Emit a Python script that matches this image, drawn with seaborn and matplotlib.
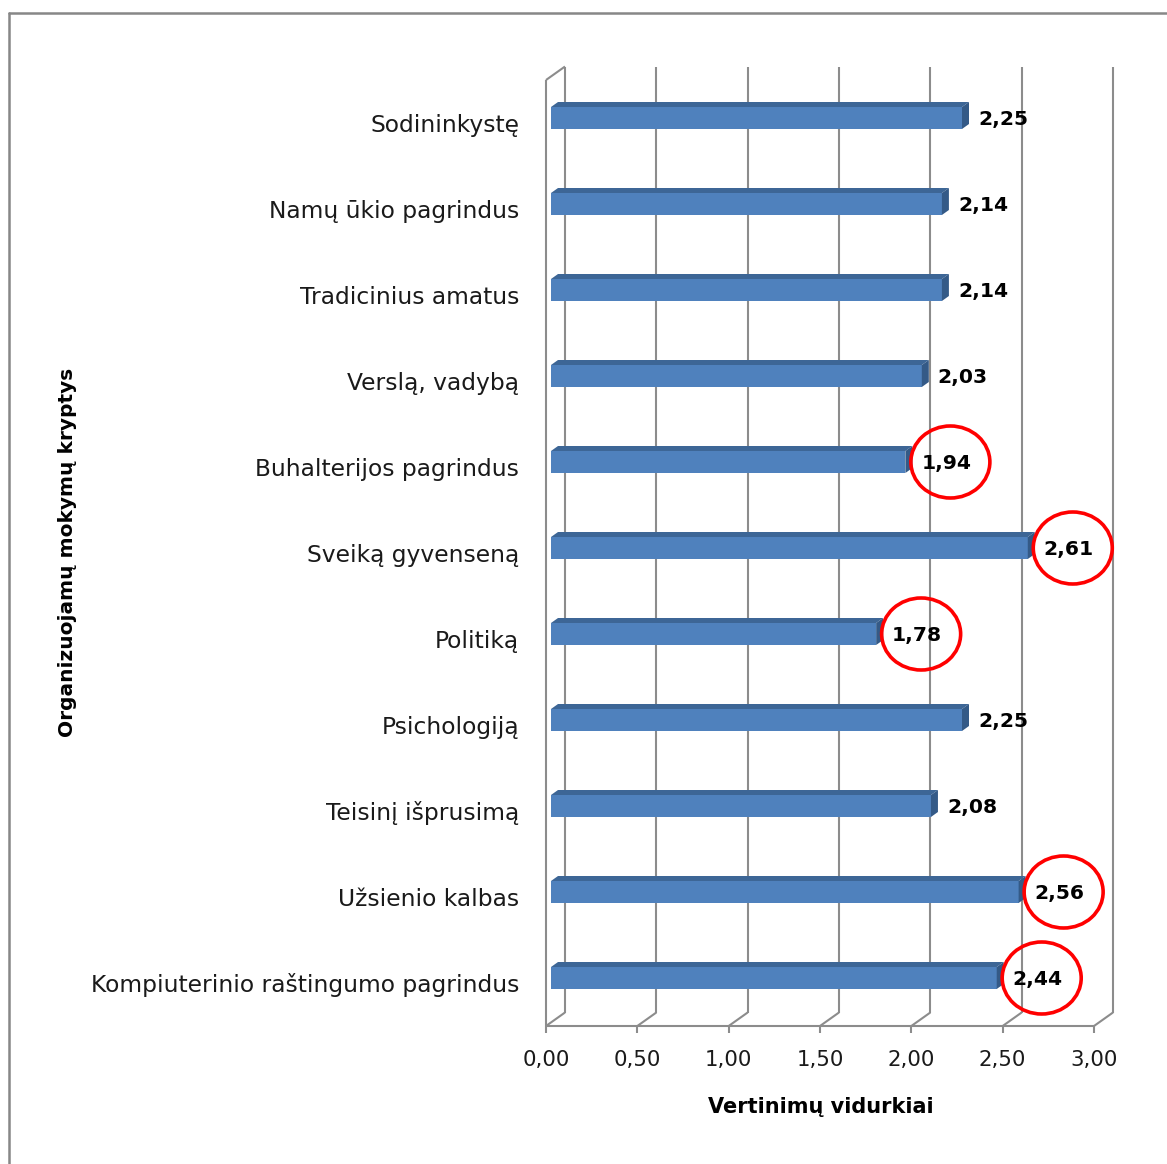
import numpy as np
import pandas as pd
import matplotlib
matplotlib.use("Agg")
import matplotlib.pyplot as plt
import seaborn as sns
from matplotlib.patches import Polygon, Ellipse
from matplotlib.lines import Line2D
import matplotlib.transforms as mtransforms

# ---------------- data ----------------
categories = ["Sodininkystę", "Namų ūkio pagrindus", "Tradicinius amatus",
              "Verslą, vadybą", "Buhalterijos pagrindus", "Sveiką gyvenseną",
              "Politiką", "Psichologiją", "Teisinį išprusimą", "Užsienio kalbas",
              "Kompiuterinio raštingumo pagrindus"]
values = [2.25, 2.14, 2.14, 2.03, 1.94, 2.61, 1.78, 2.25, 2.08, 2.56, 2.44]
highlighted = ["Buhalterijos pagrindus", "Sveiką gyvenseną", "Politiką",
               "Užsienio kalbas", "Kompiuterinio raštingumo pagrindus"]
xticks = [0.0, 0.5, 1.0, 1.5, 2.0, 2.5, 3.0]
xtick_labels = ["0,00", "0,50", "1,00", "1,50", "2,00", "2,50", "3,00"]
x_title = "Vertinimų vidurkiai"
y_title = "Organizuojamų mokymų kryptys"

# ---------------- style ----------------
sns.set_theme(style="white")
FONT = ["DejaVu Sans"]
plt.rcParams["font.family"] = FONT

W, H, DPI = 1167, 1164, 100
BAR_FRONT = "#4F81BD"
BAR_TOP = "#3D6696"
BAR_SIDE = "#345A87"
GRID = "#8C8C8C"
TEXT = "#1a1a1a"

fig = plt.figure(figsize=(W / DPI, H / DPI), dpi=DPI)
fig.patch.set_facecolor("white")

# axes = plane of the bars' front faces (pixel geometry)
ax_left, ax_right = 551, 1099
ax_top, ax_bot = 76.4, 1022.4
ax = fig.add_axes([ax_left / W, 1 - ax_bot / H, (ax_right - ax_left) / W, (ax_bot - ax_top) / H])

PX = (ax_right - ax_left) / 3.0   # px per x-unit
PY = 86.0                          # px per category

df = pd.DataFrame({"cat": categories, "val": values})
sns.barplot(data=df, x="val", y="cat", orient="h", width=22 / PY, color=BAR_FRONT,
            saturation=1, ax=ax, linewidth=0, zorder=3)

y_top = (ax_top - 118) / PY
y_bot = (ax_bot - 118) / PY
ax.set_xlim(0, 3)
ax.set_ylim(y_bot, y_top)
for s in ax.spines.values():
    s.set_visible(False)
ax.set_xlabel("")
ax.set_ylabel("")
ax.grid(False)
ax.set_facecolor("none")

# depth offsets in data units
fdx, fdy = -5 / PX, 3.6 / PY      # front wall plane
bdx, bdy = 14 / PX, -9.9 / PY     # back wall plane
lw_grid = 1.5

def line(xs, ys, **kw):
    ax.add_line(Line2D(xs, ys, color=GRID, lw=lw_grid, clip_on=False,
                       solid_capstyle="butt", zorder=1, **kw))

# back wall gridlines
for xt in xticks:
    line([xt + bdx, xt + bdx], [y_bot + bdy, y_top + bdy])
# left front wall edge and its top connector
line([fdx, fdx], [y_bot + fdy, y_top + fdy])
line([fdx, bdx], [y_top + fdy, y_top + bdy])
# floor: front edge, diagonals, tick marks
line([fdx, 3 + fdx], [y_bot + fdy, y_bot + fdy])
for xt in xticks:
    line([xt + fdx, xt + bdx], [y_bot + fdy, y_bot + bdy])
    line([xt + fdx, xt + fdx], [y_bot + fdy, y_bot + fdy + 7 / PY])

# 3D faces of bars
ddx, ddy = 7 / PX, -5 / PY
for p in ax.patches[:len(values)]:
    x0, w = p.get_x(), p.get_width()
    y0, h = p.get_y(), p.get_height()
    ytop = min(y0, y0 + h)
    ybot = max(y0, y0 + h)
    x1 = x0 + w
    ax.add_patch(Polygon([(x0, ytop), (x1, ytop), (x1 + ddx, ytop + ddy), (x0 + ddx, ytop + ddy)],
                         closed=True, facecolor=BAR_TOP, edgecolor="none", zorder=3, clip_on=False))
    ax.add_patch(Polygon([(x1, ytop), (x1, ybot), (x1 + ddx, ybot + ddy), (x1 + ddx, ytop + ddy)],
                         closed=True, facecolor=BAR_SIDE, edgecolor="none", zorder=3, clip_on=False))

# value labels and red circles
for i, (c, v) in enumerate(zip(categories, values)):
    ax.text(v + 16 / PX, i + 2 / PY, f"{v:.2f}".replace(".", ","), ha="left", va="center",
            fontsize=14.6, fontweight="bold", color="black", zorder=5, clip_on=False)
    if c in highlighted:
        ax.add_patch(Ellipse((v + 45 / PX, i), 79 / PX, 72 / PY, facecolor="none",
                             edgecolor="#FF0000", lw=2.6, zorder=6, clip_on=False))

# ticks
ax.set_xticks(xticks, xtick_labels)
ax.tick_params(axis="x", length=0, pad=20, labelsize=15.3, colors=TEXT)
ax.tick_params(axis="y", length=0, pad=23, labelsize=16.8, colors=TEXT)
shift_x = mtransforms.ScaledTranslation(-5 / DPI, 0, fig.dpi_scale_trans)
for lab in ax.get_xticklabels():
    lab.set_transform(lab.get_transform() + shift_x)
shift_y = mtransforms.ScaledTranslation(0, -5 / DPI, fig.dpi_scale_trans)
for lab in ax.get_yticklabels():
    lab.set_transform(lab.get_transform() + shift_y)

# axis titles
fig.text(821 / W, 1 - 1107 / H, x_title, ha="center", va="center",
         fontsize=15, fontweight="bold", color="black")
fig.text(68 / W, 1 - 552 / H, y_title, ha="center", va="center", rotation=90,
         fontsize=14.5, fontweight="bold", color="black")

# outer chart border (top and left visible)
BORDER = "#878787"
fig.add_artist(Line2D([9 / W, 9 / W], [0, 1 - 13 / H], transform=fig.transFigure, color=BORDER, lw=1.8))
fig.add_artist(Line2D([9 / W, 1], [1 - 13 / H, 1 - 13 / H], transform=fig.transFigure, color=BORDER, lw=1.8))

fig.savefig("out.png", dpi=DPI, facecolor="white")
